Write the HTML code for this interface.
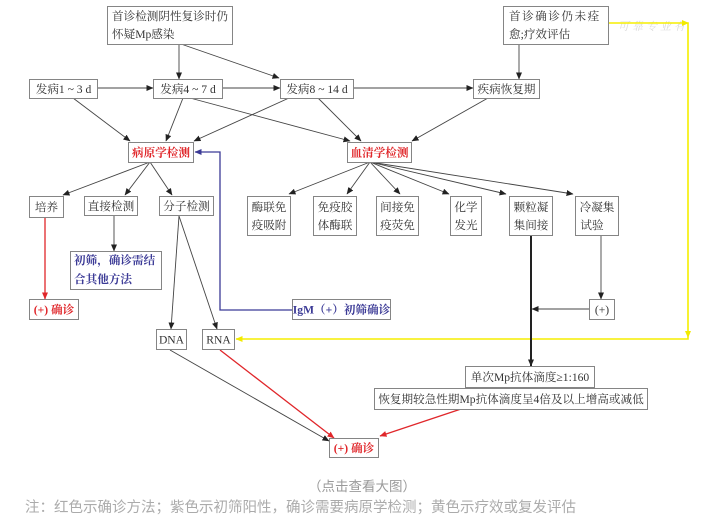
<!DOCTYPE html>
<html><head><meta charset="utf-8"><style>
html,body{margin:0;padding:0;background:#fff;}
svg{display:block;}
.b{fill:#fff;stroke:#858585;stroke-width:1;}
.t{font-family:"Liberation Serif","Noto Serif CJK SC",serif;font-size:11.6px;fill:#333;}
.red{fill:#e0262a;font-weight:bold;}
.blu{fill:#3b3a96;font-weight:bold;}
.l{stroke:#444;stroke-width:0.9;fill:none;}
</style></head><body>
<svg width="706" height="527" viewBox="0 0 706 527" xmlns="http://www.w3.org/2000/svg">
<defs>
<marker id="ak" markerWidth="7" markerHeight="6" refX="6.5" refY="3" orient="auto" markerUnits="userSpaceOnUse"><path d="M0,0 L7,3 L0,6z" fill="#222"/></marker>
<marker id="ar" markerWidth="7" markerHeight="6" refX="6.5" refY="3" orient="auto" markerUnits="userSpaceOnUse"><path d="M0,0 L7,3 L0,6z" fill="#e0262a"/></marker>
<marker id="ab" markerWidth="7" markerHeight="6" refX="6.5" refY="3" orient="auto" markerUnits="userSpaceOnUse"><path d="M0,0 L7,3 L0,6z" fill="#3b3a96"/></marker>
<marker id="ay" markerWidth="7" markerHeight="6" refX="6.5" refY="3" orient="auto" markerUnits="userSpaceOnUse"><path d="M0,0 L7,3 L0,6z" fill="#f2ea00"/></marker>
</defs>

<!-- watermark -->
<circle cx="596" cy="27" r="8" fill="none" stroke="#e4e4e4" stroke-width="1.5"/>
<text x="618" y="30" font-family="Liberation Serif,Noto Serif CJK SC,serif" font-size="11" font-style="italic" fill="#dadada" letter-spacing="3">可靠专业有</text>

<!-- yellow -->
<polyline points="608,23 688,23 688,339 236,339" fill="none" stroke="#f5ee00" stroke-width="1.6" marker-end="url(#ay)"/>
<path d="M682,20 L689,23 L682,26z" fill="#f2ea00"/>
<path d="M685,331 L688,338 L691,331z" fill="#f2ea00"/>

<!-- blue -->
<polyline points="292,310 220,310 220,152 195,152" fill="none" stroke="#3b3a96" stroke-width="1.3" marker-end="url(#ab)"/>

<!-- black connectors -->
<line class="l" x1="179" y1="44" x2="179" y2="79" marker-end="url(#ak)"/>
<line class="l" x1="181" y1="44" x2="279" y2="78" marker-end="url(#ak)"/>
<line class="l" x1="97" y1="88" x2="153" y2="88" marker-end="url(#ak)"/>
<line class="l" x1="222" y1="88" x2="280" y2="88" marker-end="url(#ak)"/>
<line class="l" x1="353" y1="88" x2="473" y2="88" marker-end="url(#ak)"/>
<line class="l" x1="519" y1="44" x2="519" y2="79" marker-end="url(#ak)"/>
<line class="l" x1="73" y1="98" x2="130" y2="141" marker-end="url(#ak)"/>
<line class="l" x1="183" y1="98" x2="166" y2="141" marker-end="url(#ak)"/>
<line class="l" x1="289" y1="98" x2="194" y2="141" marker-end="url(#ak)"/>
<line class="l" x1="190" y1="98" x2="350" y2="141" marker-end="url(#ak)"/>
<line class="l" x1="318" y1="98" x2="361" y2="141" marker-end="url(#ak)"/>
<line class="l" x1="488" y1="98" x2="412" y2="141" marker-end="url(#ak)"/>

<line class="l" x1="150" y1="162" x2="63" y2="195" marker-end="url(#ak)"/>
<line class="l" x1="150" y1="162" x2="125" y2="195" marker-end="url(#ak)"/>
<line class="l" x1="150" y1="162" x2="172" y2="195" marker-end="url(#ak)"/>

<line class="l" x1="370" y1="162" x2="289" y2="194" marker-end="url(#ak)"/>
<line class="l" x1="370" y1="162" x2="347" y2="194" marker-end="url(#ak)"/>
<line class="l" x1="370" y1="162" x2="400" y2="194" marker-end="url(#ak)"/>
<line class="l" x1="370" y1="162" x2="449" y2="194" marker-end="url(#ak)"/>
<line class="l" x1="370" y1="162" x2="506" y2="194" marker-end="url(#ak)"/>
<line class="l" x1="370" y1="162" x2="573" y2="194" marker-end="url(#ak)"/>

<line class="l" x1="114" y1="215" x2="114" y2="251" marker-end="url(#ak)"/>
<line class="l" x1="179" y1="216" x2="171" y2="329" marker-end="url(#ak)"/>
<line class="l" x1="179" y1="216" x2="217" y2="329" marker-end="url(#ak)"/>

<line x1="531" y1="235" x2="531" y2="366" stroke="#222" stroke-width="2" marker-end="url(#ak)"/>
<line class="l" x1="601" y1="235" x2="601" y2="299" marker-end="url(#ak)"/>
<line class="l" x1="589" y1="309" x2="532" y2="309" marker-end="url(#ak)"/>

<line class="l" x1="170" y1="350" x2="329" y2="441" marker-end="url(#ak)"/>

<!-- red -->
<line x1="45" y1="218" x2="45" y2="299" stroke="#e0262a" stroke-width="1.3" marker-end="url(#ar)"/>
<line x1="220" y1="350" x2="334" y2="438" stroke="#e0262a" stroke-width="1.3" marker-end="url(#ar)"/>
<line x1="461" y1="409" x2="380" y2="436" stroke="#e0262a" stroke-width="1.3" marker-end="url(#ar)"/>

<!-- boxes -->
<rect class="b" x="107.5" y="6.5" width="125" height="38"/>
<text class="t" x="112" y="20">首诊检测阴性复诊时仍</text>
<text class="t" x="112" y="38">怀疑Mp感染</text>

<rect class="b" x="503.5" y="6.5" width="105" height="38"/>
<text class="t" x="509" y="20" letter-spacing="1.5">首诊确诊仍未痊</text>
<text class="t" x="509" y="38">愈;疗效评估</text>

<rect class="b" x="29.5" y="79.5" width="68" height="19"/>
<text class="t" x="63.5" y="93" text-anchor="middle">发病1 ~ 3 d</text>
<rect class="b" x="153.5" y="79.5" width="69" height="19"/>
<text class="t" x="188" y="93" text-anchor="middle">发病4 ~ 7 d</text>
<rect class="b" x="280.5" y="79.5" width="73" height="19"/>
<text class="t" x="317" y="93" text-anchor="middle">发病8 ~ 14 d</text>
<rect class="b" x="473.5" y="79.5" width="66" height="19"/>
<text class="t" x="506.5" y="93" text-anchor="middle">疾病恢复期</text>

<rect class="b" x="128.5" y="142.5" width="65" height="20"/>
<text class="t red" x="161" y="156.5" text-anchor="middle">病原学检测</text>
<rect class="b" x="347.5" y="142.5" width="64" height="20"/>
<text class="t red" x="379.5" y="156.5" text-anchor="middle">血清学检测</text>

<rect class="b" x="29.5" y="196.5" width="34" height="21"/>
<text class="t" x="46.5" y="211" text-anchor="middle">培养</text>
<rect class="b" x="84.5" y="196.5" width="53" height="19"/>
<text class="t" x="111" y="210" text-anchor="middle">直接检测</text>
<rect class="b" x="159.5" y="196.5" width="54" height="19"/>
<text class="t" x="186.5" y="210" text-anchor="middle">分子检测</text>

<rect class="b" x="70.5" y="251.5" width="91" height="38"/>
<text class="t blu" x="74" y="264">初筛，确诊需结</text>
<text class="t blu" x="74" y="283">合其他方法</text>

<rect class="b" x="29.5" y="299.5" width="49" height="20"/>
<text class="t red" x="54" y="313.5" text-anchor="middle">(+) 确诊</text>

<rect class="b" x="156.5" y="329.5" width="30" height="20"/>
<text class="t" x="171.5" y="343.5" text-anchor="middle" font-size="10.5">DNA</text>
<rect class="b" x="202.5" y="329.5" width="32" height="20"/>
<text class="t" x="218.5" y="343.5" text-anchor="middle" font-size="10.5">RNA</text>

<rect class="b" x="292.5" y="299.5" width="98" height="20"/>
<text class="t blu" x="341.5" y="313.5" text-anchor="middle">IgM（+）初筛确诊</text>

<rect class="b" x="247.5" y="196.5" width="43" height="39"/>
<text class="t" x="269" y="211" text-anchor="middle">酶联免</text>
<text class="t" x="269" y="229" text-anchor="middle">疫吸附</text>
<rect class="b" x="313.5" y="196.5" width="43" height="39"/>
<text class="t" x="335" y="211" text-anchor="middle">免疫胶</text>
<text class="t" x="335" y="229" text-anchor="middle">体酶联</text>
<rect class="b" x="376.5" y="196.5" width="42" height="39"/>
<text class="t" x="397.5" y="211" text-anchor="middle">间接免</text>
<text class="t" x="397.5" y="229" text-anchor="middle">疫荧免</text>
<rect class="b" x="450.5" y="196.5" width="31" height="39"/>
<text class="t" x="466" y="211" text-anchor="middle">化学</text>
<text class="t" x="466" y="229" text-anchor="middle">发光</text>
<rect class="b" x="509.5" y="196.5" width="43" height="39"/>
<text class="t" x="531" y="211" text-anchor="middle">颗粒凝</text>
<text class="t" x="531" y="229" text-anchor="middle">集间接</text>
<rect class="b" x="575.5" y="196.5" width="43" height="39"/>
<text class="t" x="597" y="211" text-anchor="middle">冷凝集</text>
<text class="t" x="592" y="229" text-anchor="middle">试验</text>

<rect class="b" x="589.5" y="299.5" width="25" height="20"/>
<text class="t" x="602" y="313.5" text-anchor="middle" font-size="10.5">(+)</text>

<rect class="b" x="465.5" y="366.5" width="129" height="21"/>
<text class="t" x="530" y="381" text-anchor="middle">单次Mp抗体滴度≥1:160</text>
<rect class="b" x="374.5" y="388.5" width="273" height="21"/>
<text class="t" x="511" y="403" text-anchor="middle">恢复期较急性期Mp抗体滴度呈4倍及以上增高或减低</text>

<rect class="b" x="329.5" y="438.5" width="49" height="19"/>
<text class="t red" x="354" y="452" text-anchor="middle">(+) 确诊</text>

<!-- captions -->
<text x="362" y="491" text-anchor="middle" font-family="Liberation Sans,Noto Sans CJK SC,sans-serif" font-size="13.5" fill="#9a9a9a">（点击查看大图）</text>
<text x="25" y="512" font-family="Liberation Sans,Noto Sans CJK SC,sans-serif" font-size="14.5" fill="#ababab">注：红色示确诊方法；紫色示初筛阳性，确诊需要病原学检测；黄色示疗效或复发评估</text>
</svg>
</body></html>
